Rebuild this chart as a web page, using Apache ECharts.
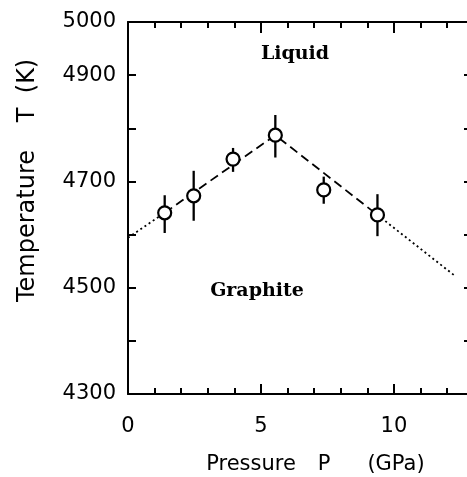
<!DOCTYPE html>
<html>
<head>
<meta charset="utf-8">
<script src="https://cdn.jsdelivr.net/npm/echarts@6/dist/echarts.min.js"></script>
<style>
html,body{margin:0;padding:0;background:#fff;}
#chart{width:467px;height:477px;}
</style>
</head>
<body>
<div id="chart"></div>
<script>
// ---- data ----
const pressure    = [1.38, 2.47, 3.95, 5.54, 7.36, 9.38];      // GPa
const temperature = [4641, 4673, 4742, 4787, 4684, 4637];      // K
const errLow      = [4603, 4626, 4718, 4745, 4658, 4597];
const errHigh     = [4674, 4720, 4763, 4825, 4709, 4676];
const dottedLeft  = [[0, 4594], [1.38, 4641]];
const dashedFit   = [[1.38, 4641], [5.54, 4787], [9.38, 4637]];
const dottedRight = [[9.38, 4637], [12.3, 4522]];
const xTickLabels = [0, 5, 10];
const yTickLabels = [4300, 4500, 4700, 4900, 5000];
const xMin = 0, xMax = 12.86, yMin = 4300, yMax = 5000;

const chart = echarts.init(document.getElementById('chart'), null, {renderer: 'canvas'});
const sans = 'DejaVu Sans';
const serif = 'DejaVu Serif';

function xAxisDef(pos, interval, len, showLine, showLabel) {
  return {
    type: 'value', position: pos, min: xMin, max: xMax, interval: interval,
    axisLine: {show: showLine, onZero: false, lineStyle: {color: '#000', width: 2}},
    axisTick: {show: true, inside: true, length: len, lineStyle: {color: '#000', width: 2}},
    axisLabel: {
      show: showLabel, margin: 22, color: '#000', fontFamily: sans, fontSize: 21,
      formatter: v => (xTickLabels.indexOf(Math.round(v * 1000) / 1000) >= 0 ? String(v) : ''),
      showMaxLabel: false
    },
    splitLine: {show: false}
  };
}
function yAxisDef(pos, len, showLabel) {
  return {
    type: 'value', position: pos, min: yMin, max: yMax, interval: 100,
    axisLine: {show: true, onZero: false, lineStyle: {color: '#000', width: 2}},
    axisTick: {show: true, inside: true, length: len, lineStyle: {color: '#000', width: 2}},
    axisLabel: {
      show: showLabel, margin: 12, color: '#000', fontFamily: sans, fontSize: 21,
      formatter: v => (yTickLabels.indexOf(v) >= 0 ? String(v) : '')
    },
    splitLine: {show: false}
  };
}

function txt(text, x, y, size, family, weight, rot) {
  const el = {
    type: 'text', x: x, y: y,
    style: {text: text, fontSize: size, fontFamily: family, fontWeight: weight, fill: '#000', align: 'center', verticalAlign: 'middle'}
  };
  if (rot) el.rotation = rot;
  return el;
}

const option = {
  backgroundColor: '#fff',
  animation: false,
  grid: {left: 128, top: 22, width: 342, height: 372, containLabel: false, outerBoundsMode: 'none'},
  xAxis: [
    xAxisDef('bottom', 1, 6, true, true),
    xAxisDef('bottom', 5, 10, false, false),
    xAxisDef('top', 1, 6, true, false),
    xAxisDef('top', 5, 11, false, false)
  ],
  yAxis: [
    yAxisDef('left', 8, true),
    yAxisDef('right', 6, false)
  ],
  series: [
    {
      type: 'line', data: dottedLeft, symbol: 'none', silent: true,
      lineStyle: {color: '#000', width: 1.8, type: [2, 3]}
    },
    {
      type: 'line', data: dashedFit, symbol: 'none', silent: true,
      lineStyle: {color: '#000', width: 1.8, type: [9, 5]}
    },
    {
      type: 'line', data: dottedRight, symbol: 'none', silent: true,
      lineStyle: {color: '#000', width: 1.8, type: [2, 3]}
    },
    {
      type: 'custom',
      data: pressure.map((p, i) => [p, errLow[i], errHigh[i]]),
      encode: {x: 0, y: [1, 2]},
      renderItem: function (params, api) {
        const x = api.value(0);
        const lo = api.coord([x, api.value(1)]);
        const hi = api.coord([x, api.value(2)]);
        return {
          type: 'line',
          shape: {x1: lo[0], y1: lo[1], x2: hi[0], y2: hi[1]},
          style: {stroke: '#000', lineWidth: 2.3}
        };
      },
      z: 3
    },
    {
      type: 'scatter',
      data: pressure.map((p, i) => [p, temperature[i]]),
      symbol: 'circle', symbolSize: 13,
      itemStyle: {color: '#fff', borderColor: '#000', borderWidth: 2.2, opacity: 1},
      z: 5
    }
  ],
  graphic: [
    txt('Liquid', 295, 54, 19, serif, 'bold'),
    txt('Graphite', 257, 291, 19, serif, 'bold'),
    txt('Pressure', 251, 465, 21, sans, 'normal'),
    txt('P', 324, 465, 21, sans, 'normal'),
    txt('(GPa)', 396, 465, 21, sans, 'normal'),
    txt('Temperature', 28, 226, 24, sans, 'normal', Math.PI / 2),
    txt('T', 28, 115, 24, sans, 'normal', Math.PI / 2),
    txt('(K)', 28, 76, 24, sans, 'normal', Math.PI / 2)
  ]
};
chart.setOption(option);
</script>
</body>
</html>
